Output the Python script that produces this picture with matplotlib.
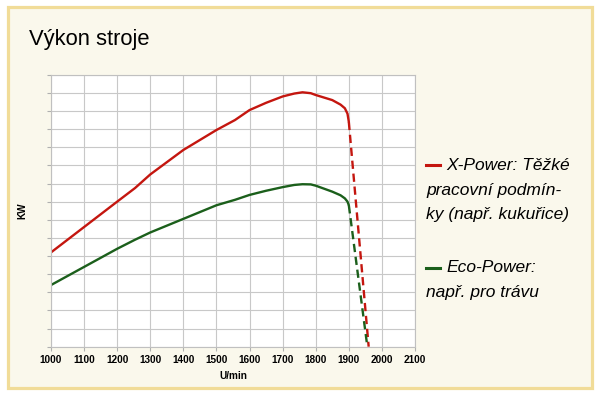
import matplotlib.pyplot as plt
from matplotlib.patches import Rectangle

# curve readings (rpm, power in grid units)
rpm = [1000, 1100, 1200, 1254, 1300, 1400, 1500, 1556, 1600, 1650, 1700, 1735, 1760, 1785,
       1800, 1850, 1875, 1888, 1896, 1900]
x_power = [5.2, 6.6, 8.0, 8.75, 9.5, 10.85, 11.95, 12.5, 13.05, 13.45, 13.8, 13.96, 14.03, 13.98,
           13.88, 13.6, 13.35, 13.15, 12.85, 12.4]
eco_power = [3.4, 4.4, 5.4, 5.9, 6.3, 7.05, 7.8, 8.1, 8.37, 8.6, 8.8, 8.92, 8.96, 8.95,
             8.88, 8.55, 8.35, 8.18, 8.0, 7.8]

# dashed drop-off past the governor
x_drop_rpm = [1900, 1960]
x_drop = [12.4, 0.0]
eco_drop_rpm = [1900, 1956]
eco_drop = [7.8, 0.0]

x_ticks = list(range(1000, 2101, 100))

x_label_lines = ["X-Power: Těžké", "pracovní podmín-", "ky (např. kukuřice)"]
eco_label_lines = ["Eco-Power:", "např. pro trávu"]

red = "#c4160f"
green = "#1b5f1b"

plt.rcParams['font.family'] = ['Liberation Sans', 'DejaVu Sans']

fig = plt.figure(figsize=(6, 3.95), dpi=100)
fig.patch.set_facecolor("white")

# cream panel with yellow frame
frame = Rectangle((7.5 / 600, 1 - 387.5 / 395), 584 / 600, 381 / 395,
                  transform=fig.transFigure, facecolor="#faf8ec",
                  edgecolor="#f1dc98", linewidth=2.3, zorder=-5)
fig.patches.append(frame)

fig.text(29 / 600, 1 - 39 / 395, "Výkon stroje", fontsize=15.8, va="center", ha="left")

ax = fig.add_axes([51 / 600, 1 - 346.7 / 395, 364 / 600, 272 / 395])
ax.set_zorder(2)
ax.set_facecolor("white")

ax.plot(rpm, x_power, color=red, linewidth=1.7, solid_capstyle="round")
ax.plot(rpm, eco_power, color=green, linewidth=1.7, solid_capstyle="round")
ax.plot(x_drop_rpm, x_drop, color=red, linewidth=1.7, dashes=(3.5, 2))
ax.plot(eco_drop_rpm, eco_drop, color=green, linewidth=1.7, dashes=(3.5, 2))

ax.set_xlim(1000, 2100)
ax.set_ylim(0, 15)
ax.set_xticks(x_ticks)
ax.set_yticks(range(0, 16))
ax.set_yticklabels([])
ax.set_xticklabels([str(t) for t in x_ticks], fontsize=7.2, fontweight="bold")
ax.tick_params(axis="both", length=3, color="#b0b0b0", width=0.8, pad=3)
ax.grid(True, color="#c8c8c8", linewidth=0.8)
ax.set_axisbelow(True)
for s in ax.spines.values():
    s.set_color("#c0c0c0")
    s.set_linewidth(0.8)

ax.set_xlabel("U/min", fontsize=7.2, fontweight="bold", labelpad=4)
ax.set_ylabel("KW", fontsize=7.2, fontweight="bold", labelpad=11)

# legend drawn as text, one line at a time
def legend_block(color, lines, y0):
    fig.add_artist(plt.Line2D([426 / 600, 440 / 600], [1 - y0 / 395] * 2,
                              color=color, linewidth=2.2))
    for i, line in enumerate(lines):
        x = 446 if i == 0 else 426
        fig.text(x / 600, 1 - (y0 + 25 * i) / 395, line, fontsize=12.5,
                 style="italic", va="center", ha="left")

legend_block(red, x_label_lines, 165)
legend_block(green, eco_label_lines, 268)

fig.savefig("out.png", dpi=100)
